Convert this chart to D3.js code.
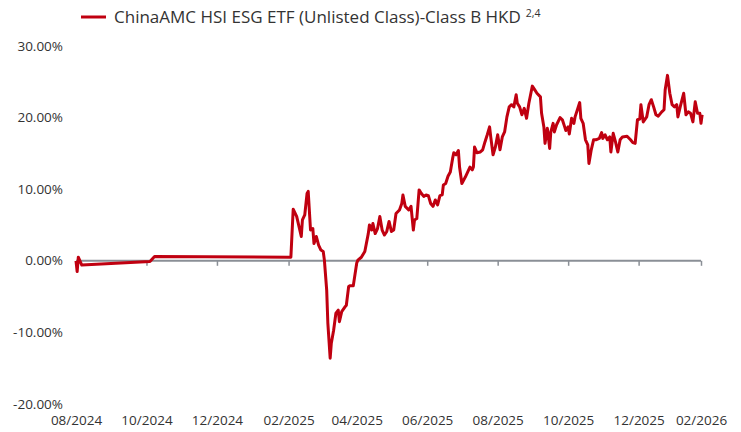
<!DOCTYPE html>
<html>
<head>
<meta charset="utf-8">
<script src="https://cdn.jsdelivr.net/npm/d3@7"></script>
<style>
  body { margin: 0; background: #fff; }
  text { font-family: "Open Sans", "Noto Sans", sans-serif; fill: #333; }
</style>
</head>
<body>
<div id="graph"></div>
<script>
var seriesName = "ChinaAMC HSI ESG ETF (Unlisted Class)-Class B HKD";
var seriesNote = "2,4";

var dates = [
  "2024-08-01","2024-08-02","2024-08-03","2024-08-06","2024-10-04","2024-10-08","2025-02-02",
  "2025-02-03","2025-02-05","2025-02-08","2025-02-10","2025-02-12","2025-02-13","2025-02-15",
  "2025-02-17","2025-02-18","2025-02-20","2025-02-22","2025-02-23","2025-02-25","2025-02-27",
  "2025-03-01","2025-03-03","2025-03-04","2025-03-06","2025-03-07","2025-03-09","2025-03-10",
  "2025-03-12","2025-03-14","2025-03-16","2025-03-17","2025-03-19","2025-03-22","2025-03-23",
  "2025-03-25","2025-03-26","2025-03-29","2025-04-01","2025-04-02","2025-04-05","2025-04-08",
  "2025-04-11","2025-04-12","2025-04-14","2025-04-15","2025-04-17","2025-04-19","2025-04-21",
  "2025-04-23","2025-04-25","2025-04-27","2025-04-29","2025-05-01","2025-05-03","2025-05-05",
  "2025-05-08","2025-05-10","2025-05-11","2025-05-13","2025-05-16","2025-05-18","2025-05-20",
  "2025-05-21","2025-05-23","2025-05-25","2025-05-27","2025-05-29","2025-05-31","2025-06-02",
  "2025-06-04","2025-06-06","2025-06-08","2025-06-10","2025-06-12","2025-06-14","2025-06-15",
  "2025-06-17","2025-06-19","2025-06-21","2025-06-23","2025-06-24","2025-06-26","2025-06-28",
  "2025-06-29","2025-07-01","2025-07-04","2025-07-06","2025-07-08","2025-07-10","2025-07-11",
  "2025-07-12","2025-07-14","2025-07-17","2025-07-19","2025-07-21","2025-07-23","2025-07-25",
  "2025-07-26","2025-07-28","2025-07-30","2025-08-01","2025-08-03","2025-08-05","2025-08-07",
  "2025-08-09","2025-08-11","2025-08-13","2025-08-15","2025-08-17","2025-08-18","2025-08-20",
  "2025-08-22","2025-08-24","2025-08-26","2025-08-28","2025-08-30","2025-08-31","2025-09-02",
  "2025-09-04","2025-09-07","2025-09-08","2025-09-10","2025-09-11","2025-09-13","2025-09-15",
  "2025-09-16","2025-09-18","2025-09-19","2025-09-21","2025-09-24","2025-09-26","2025-09-28",
  "2025-09-29","2025-10-01","2025-10-02","2025-10-04","2025-10-06","2025-10-07","2025-10-09",
  "2025-10-11","2025-10-12","2025-10-14","2025-10-16","2025-10-18","2025-10-19","2025-10-21",
  "2025-10-23","2025-10-25","2025-10-28","2025-10-30","2025-10-31","2025-11-02","2025-11-04",
  "2025-11-06","2025-11-07","2025-11-09","2025-11-11","2025-11-13","2025-11-15","2025-11-17",
  "2025-11-21","2025-11-24","2025-11-26","2025-11-28","2025-11-30","2025-12-02","2025-12-03",
  "2025-12-05","2025-12-08","2025-12-10","2025-12-12","2025-12-14","2025-12-16","2025-12-18",
  "2025-12-21","2025-12-23","2025-12-24","2025-12-26","2025-12-28","2025-12-30","2026-01-01",
  "2026-01-03","2026-01-04","2026-01-06","2026-01-09","2026-01-11","2026-01-13","2026-01-15",
  "2026-01-17","2026-01-19","2026-01-21","2026-01-23","2026-01-24","2026-01-25"
];
var values = [
  0.0,-1.5,0.5,-0.6,-0.1,0.6,0.5,
  0.5,7.2,6.2,4.8,3.4,5.7,6.4,
  9.4,9.7,4.3,4.5,2.4,3.4,2.2,
  1.5,1.3,0.1,-4.1,-8.7,-13.6,-11.5,
  -9.7,-7.3,-6.9,-8.5,-7.1,-6.4,-6.2,
  -3.6,-3.5,-3.5,-0.3,0.1,0.5,1.3,
  3.8,5.0,4.3,5.2,3.8,4.5,6.2,
  4.3,3.6,4.1,5.5,4.1,4.3,6.6,
  7.1,8.0,9.2,7.6,7.1,7.6,4.3,
  5.7,5.9,9.9,9.4,9.0,9.2,9.1,
  8.0,7.6,8.5,7.8,9.1,9.2,10.6,
  10.8,11.8,12.4,14.3,15.1,14.8,15.4,
  13.1,10.8,11.7,12.4,13.1,12.7,13.1,
  15.9,15.1,15.2,15.5,16.6,17.6,18.7,
  17.3,14.8,15.9,17.6,15.5,17.3,18.0,
  20.1,21.5,21.8,21.5,23.2,22.0,21.5,
  20.4,21.3,19.9,22.0,23.6,24.4,23.9,
  23.4,22.9,20.6,18.7,16.4,18.5,15.7,
  18.0,19.2,18.0,19.0,20.0,19.7,18.7,
  18.2,18.7,17.7,19.9,19.2,20.1,21.1,
  22.1,19.9,19.2,16.9,16.2,13.6,15.5,
  16.9,16.9,17.1,17.9,17.1,17.6,16.9,
  17.3,15.2,17.8,16.6,15.2,16.9,17.3,
  17.4,16.9,16.5,16.4,19.7,19.8,21.8,
  19.4,20.1,21.8,22.5,21.5,20.4,20.2,
  20.8,21.1,23.9,25.9,23.4,21.8,21.5,
  21.8,20.1,21.5,23.4,20.4,20.8,20.6,
  19.4,22.2,20.6,20.6,19.2,20.4
];

var yTicks = [-20, -10, 0, 10, 20, 30];
var tickDates = ["2024-08-01","2024-10-01","2024-12-01","2025-02-01","2025-04-01",
                 "2025-06-01","2025-08-01","2025-10-01","2025-12-01","2026-01-24"];
var tickLabels = ["08/2024","10/2024","12/2024","02/2025","04/2025",
                  "06/2025","08/2025","10/2025","12/2025","02/2026"];

var parse = d3.timeParse("%Y-%m-%d");
var lineColor = "#c00010";

var vis = d3.select("#graph")
    .append("svg")
    .attr("width", 741).attr("height", 432);

var x = d3.scaleTime()
    .domain([parse(tickDates[0]), parse(tickDates[tickDates.length - 1])])
    .range([76, 701]);
var y = d3.scaleLinear()
    .domain([-20, 30])
    .range([404, 46]);

function draw_legend() { //легенда сверху
    vis.append("line")
        .attr("x1", 81).attr("x2", 106)
        .attr("y1", 17).attr("y2", 17)
        .attr("stroke", lineColor)
        .attr("stroke-width", 3);
    var t = vis.append("text")
        .attr("x", 114).attr("y", 23)
        .style("font-size", "17px")
        .text(seriesName);
    t.append("tspan")
        .attr("dx", 5).attr("dy", -6)
        .style("font-size", "10.5px")
        .text(seriesNote);
}

function draw_y_axis() { //подписи оси Y без линии
    vis.selectAll("text.ylab")
        .data(yTicks)
        .enter()
        .append("text")
        .attr("class", "ylab")
        .attr("x", 63)
        .attr("y", function (d) { return y(d) + 4.5; })
        .attr("text-anchor", "end")
        .style("font-size", "13.5px")
        .text(function (d) { return d.toFixed(2) + "%"; });
}

function draw_x_axis() { //ось X по нулевой линии
    var ax = d3.axisBottom(x)
        .tickValues(tickDates.map(parse))
        .tickSize(5)
        .tickFormat(function (d, i) { return tickLabels[i]; });
    var g = vis.append("g")
        .attr("transform", "translate(0," + y(0) + ")")
        .call(ax);
    g.select(".domain")
        .attr("stroke", "#8a8f96")
        .attr("stroke-width", 2)
        .attr("d", "M" + x.range()[0] + ",0H" + x.range()[1]);
    g.selectAll(".tick line")
        .attr("stroke", "#8a8f96")
        .attr("stroke-width", 1.5);
    // подписи опускаем вниз графика
    g.selectAll(".tick text")
        .attr("y", y(-20) - y(0) + 11)
        .attr("dy", "0.71em")
        .attr("fill", "#333")
        .style("font-family", "\"Open Sans\", \"Noto Sans\", sans-serif")
        .style("font-size", "13.5px");
}

function draw_line() { //линия доходности
    var pts = dates.map(function (d, i) { return { date: parse(d), v: values[i] }; });
    var line = d3.line()
        .x(function (d) { return x(d.date); })
        .y(function (d) { return y(d.v); });
    vis.append("path")
        .datum(pts)
        .attr("d", line)
        .attr("fill", "none")
        .attr("stroke", lineColor)
        .attr("stroke-width", 3)
        .attr("stroke-linejoin", "round");
}

draw_legend();
draw_y_axis();
draw_x_axis();
draw_line();
</script>
</body>
</html>
